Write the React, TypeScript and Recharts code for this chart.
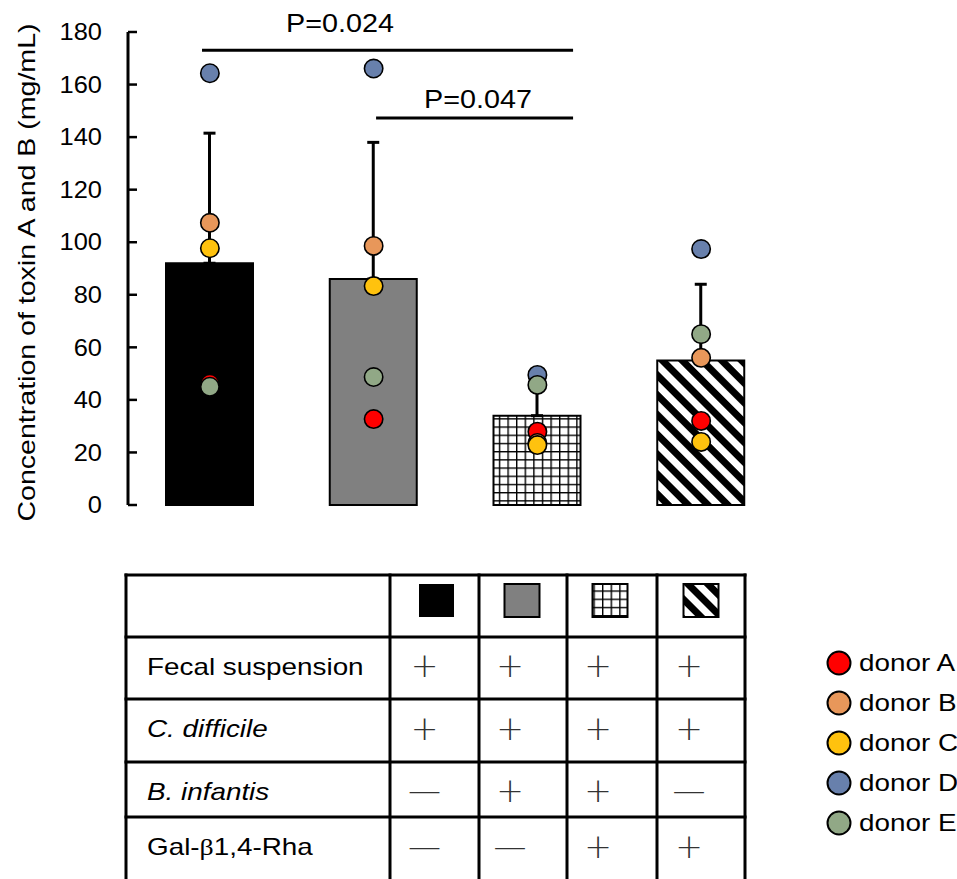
import React from "react"
import {
  ComposedChart,
  Bar,
  Cell,
  ErrorBar,
  Scatter,
  XAxis,
  YAxis,
  ReferenceLine,
  ReferenceDot,
  Legend,
} from "recharts"

const groups = ["FS + CD", "FS + CD + BI", "FS + CD + BI + GR", "FS + CD + GR"]
const means = [92, 86, 34, 55]
const sds = [49.5, 52, 12.7, 29]

const donorA = [46.2, 32.7, 27.9, 32]
const donorB = [107.4, 98.6, 23.6, 56]
const donorC = [97.7, 83.3, 22.8, 24]
const donorD = [164.3, 166.1, 49.5, 97.4]
const donorE = [45.0, 48.7, 45.7, 65]

const donorKeys = ["donorA", "donorB", "donorC", "donorD", "donorE"]
const donorNames = ["donor A", "donor B", "donor C", "donor D", "donor E"]
const donorColors = ["#FF0000", "#E8975A", "#FFC20E", "#6880AC", "#91A886"]

const yTicks = [0, 20, 40, 60, 80, 100, 120, 140, 160, 180]

const rowLabels = ["Fecal suspension", "C. difficile", "B. infantis", "Gal-β1,4-Rha"]
const rowItalic = [false, true, true, false]
const rowSigns = [
  ["+", "+", "+", "+"],
  ["+", "+", "+", "+"],
  ["—", "+", "+", "—"],
  ["—", "—", "+", "+"],
]

const barFills = ["#000000", "#808080", "url(#gridFill)", "url(#hatchFill)"]

const chartData = groups.map((g, i) => ({
  name: g,
  pos: i + 0.5,
  mean: means[i],
  err: [0, sds[i]],
  donorA: donorA[i],
  donorB: donorB[i],
  donorC: donorC[i],
  donorD: donorD[i],
  donorE: donorE[i],
}))

const FONT = "'Liberation Sans', Arial, sans-serif"

const YTick = (props: any) => {
  const { x, y, payload } = props
  return (
    <g>
      <line x1={x} x2={x + 9} y1={y} y2={y} stroke="#000" strokeWidth={2.5} />
      <text
        transform={`translate(${x - 26},${y}) scale(1.06,1)`}
        textAnchor="end"
        dominantBaseline="central"
        fontSize={24}
        fill="#000"
        fontFamily={FONT}
      >
        {payload.value}
      </text>
    </g>
  )
}

const YLabel = (props: any) => {
  const vb = props.viewBox || {}
  const cy = vb.y + vb.height / 2 + 4
  return (
    <text
      transform={`translate(26,${cy}) rotate(-90)`}
      textAnchor="middle"
      dominantBaseline="central"
      fontSize={24}
      fill="#000"
      fontFamily={FONT}
      textLength={498}
      lengthAdjust="spacingAndGlyphs"
    >
      Concentration of toxin A and B (mg/mL)
    </text>
  )
}

const PLabel = (props: any) => {
  const vb = props.viewBox || {}
  const cx = vb.x + (vb.width || 0) / 2
  const cy = vb.y + (vb.height || 0) / 2
  return (
    <text
      transform={`translate(${cx},${cy}) scale(1.15,1)`}
      textAnchor="middle"
      dominantBaseline="central"
      fontSize={25}
      fill="#000"
      fontFamily={FONT}
    >
      {props.value}
    </text>
  )
}

const Dot = (props: any) => {
  const { cx, cy, fill } = props
  if (cx == null || cy == null) return null
  return <circle cx={cx} cy={cy} r={9.2} fill={fill} stroke="#000" strokeWidth={1.6} />
}

const DonorLegend = (props: any) => {
  const items = (props.payload || []).filter((p: any) => donorNames.includes(p.value))
  return (
    <div>
      {items.map((p: any) => {
        const idx = donorNames.indexOf(p.value)
        return (
          <div key={p.value} style={{ display: "flex", alignItems: "center", height: 40 }}>
            <svg width={28} height={28}>
              <circle cx={14} cy={14} r={11.5} fill={donorColors[idx]} stroke="#000" strokeWidth={2} />
            </svg>
            <span
              style={{
                fontSize: 24,
                marginLeft: 6,
                fontFamily: FONT,
                color: "#000",
                whiteSpace: "nowrap",
                display: "inline-block",
                transform: "scaleX(1.16)",
                transformOrigin: "left center",
              }}
            >
              {p.value}
            </span>
          </div>
        )
      })}
    </div>
  )
}

function Patterns() {
  return (
    <svg width={0} height={0} style={{ position: "absolute" }}>
      <defs>
        <pattern id="gridFill" patternUnits="userSpaceOnUse" width={8.6} height={8.2}>
          <rect width={8.6} height={8.2} fill="#fff" />
          <path d="M0 0 H8.6 M0 0 V8.2" stroke="#000" strokeWidth={2.8} />
        </pattern>
        <pattern id="hatchFill" patternUnits="userSpaceOnUse" width={14} height={14} patternTransform="rotate(-45)">
          <rect width={14} height={14} fill="#fff" />
          <rect width={7} height={14} fill="#000" />
        </pattern>
      </defs>
    </svg>
  )
}

function ConditionTable() {
  const colX = [126, 390, 479, 567, 657, 745]
  const rowY = [575, 637, 699, 762, 817]
  const centers = [436.5, 522, 610, 701]
  const textY = [675, 737, 800, 855]
  const signY = [665, 728, 790, 846]
  return (
    <svg width={957} height={879} style={{ position: "absolute", left: 0, top: 0, pointerEvents: "none" }}>
      {colX.map((x) => (
        <line key={"v" + x} x1={x} x2={x} y1={573.5} y2={882} stroke="#000" strokeWidth={3} />
      ))}
      {rowY.map((y) => (
        <line key={"h" + y} x1={124.5} x2={746.5} y1={y} y2={y} stroke="#000" strokeWidth={3} />
      ))}
      {barFills.map((f, i) => (
        <rect
          key={"sw" + i}
          x={centers[i] - 17.5}
          y={584}
          width={35}
          height={33}
          fill={f}
          stroke="#000"
          strokeWidth={i === 0 ? 0 : 2}
        />
      ))}
      {rowLabels.map((label, r) => (
        <text
          key={label}
          transform={`translate(147,${textY[r]}) scale(1.16,1)`}
          fontSize={24}
          fontFamily={FONT}
          fontStyle={rowItalic[r] ? "italic" : "normal"}
          fill="#000"
        >
          {label.includes("β") ? (
            <>
              Gal-<tspan fontFamily="'Liberation Serif', serif">β</tspan>1,4-Rha
            </>
          ) : (
            label
          )}
        </text>
      ))}
      {rowSigns.map((signs, r) =>
        signs.map((s, c) => (
          <text
            key={r + "-" + c}
            x={centers[c] - 12}
            y={signY[r]}
            textAnchor="middle"
            dominantBaseline="central"
            fontSize={33}
            fontWeight={200}
            fontFamily="'DejaVu Sans', sans-serif"
            fill="#333"
          >
            {s}
          </text>
        ))
      )}
    </svg>
  )
}

export default function App() {
  return (
    <div style={{ position: "absolute", left: 0, top: 0, width: 957, height: 879, background: "#fff", fontFamily: FONT }}>
      <Patterns />
      <ComposedChart
        width={957}
        height={879}
        data={chartData}
        margin={{ top: 32, right: 174, bottom: 374, left: 0 }}
      >
        <XAxis
          dataKey="name"
          tick={false}
          tickLine={false}
          height={0}
          axisLine={{ stroke: "#000", strokeWidth: 3 }}
        />
        <XAxis
          xAxisId="num"
          dataKey="pos"
          type="number"
          domain={[0, 4]}
          allowDataOverflow
          tick={false}
          tickLine={false}
          axisLine={false}
          height={0}
        />
        <YAxis
          width={128}
          domain={[0, 180]}
          ticks={yTicks}
          interval={0}
          tickSize={0}
          tickMargin={0}
          tickLine={false}
          tick={<YTick />}
          axisLine={{ stroke: "#000", strokeWidth: 3 }}
          label={<YLabel />}
        />
        <Bar dataKey="mean" barSize={87} stroke="#000" strokeWidth={2} legendType="none" isAnimationActive={false}>
          {chartData.map((d, i) => (
            <Cell key={d.name} fill={barFills[i]} />
          ))}
          <ErrorBar dataKey="err" width={6} stroke="#000" strokeWidth={3} direction="y" />
        </Bar>
        {donorKeys.map((k, i) => (
          <Scatter
            key={k}
            name={donorNames[i]}
            dataKey={k}
            fill={donorColors[i]}
            shape={<Dot />}
            isAnimationActive={false}
          />
        ))}
        <ReferenceLine
          xAxisId="num"
          segment={[
            { x: 0.452, y: 173.1 },
            { x: 2.718, y: 173.1 },
          ]}
          stroke="#000"
          strokeWidth={3}
        />
        <ReferenceLine
          xAxisId="num"
          segment={[
            { x: 1.515, y: 147.3 },
            { x: 2.718, y: 147.3 },
          ]}
          stroke="#000"
          strokeWidth={3}
        />
        <ReferenceDot
          xAxisId="num"
          x={1.295}
          y={183.2}
          r={0}
          ifOverflow="visible"
          label={<PLabel value="P=0.024" />}
        />
        <ReferenceDot
          xAxisId="num"
          x={2.137}
          y={154.1}
          r={0}
          ifOverflow="visible"
          label={<PLabel value="P=0.047" />}
        />
        <Legend
          layout="horizontal"
          align="center"
          verticalAlign="middle"
          content={<DonorLegend />}
          wrapperStyle={{ top: 643, left: 825, width: 140 }}
        />
      </ComposedChart>
      <ConditionTable />
    </div>
  )
}
